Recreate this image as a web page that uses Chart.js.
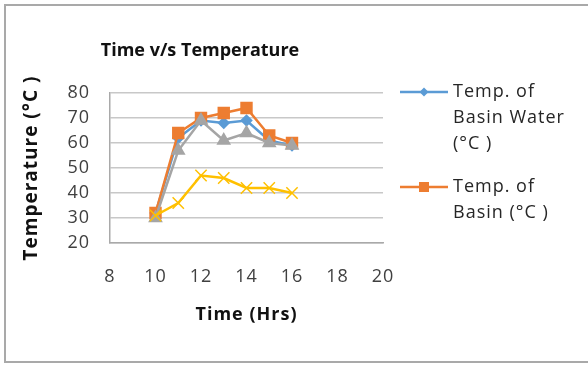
<!DOCTYPE html>
<html><head><meta charset="utf-8">
<script src="https://cdn.jsdelivr.net/npm/chart.js@4"></script>
<style>
html,body{margin:0;padding:0;background:#fff;overflow:hidden}
#wrap{position:relative;width:588px;height:365px}
#c{position:absolute;left:0;top:0}
#frame{position:absolute;left:4px;top:4px;width:620px;height:359px;border:2px solid #a9a9a9;box-sizing:border-box;pointer-events:none}
</style></head><body>
<div id="wrap"><canvas id="c" width="588" height="365"></canvas><div id="frame"></div></div>
<script>
const hours = [10, 11, 12, 13, 14, 15, 16];
const basinWater = [32, 62, 69, 68, 69, 61, 59];
const basin = [32, 64, 70, 72, 74, 63, 60];
const glass = [30, 57, 69, 61, 64, 60, 59];
const ambient = [31, 36, 47, 46, 42, 42, 40];
const xTicks = [8, 10, 12, 14, 16, 18, 20];
const yTicks = [20, 30, 40, 50, 60, 70, 80];
const seriesNames = ['Temp. of Basin Water (°C )', 'Temp. of Basin (°C )', 'Temp. of Glass (°C )', 'Ambient Temp. (°C )'];
const legendLines = [['Temp. of', 'Basin Water', '(°C )'], ['Temp. of', 'Basin (°C )']];
const chartTitle = 'Time v/s Temperature';
const xTitle = 'Time (Hrs)';
const yTitle = 'Temperature (°C )';

const FONT = '"Open Sans"';
const pts = arr => hours.map((h, i) => ({x: h, y: arr[i]}));

const customDraw = {
  id: 'customDraw',
  beforeDraw(chart) {
    chart.ctx.letterSpacing = '1px';
  },
  afterDraw(chart) {
    const ctx = chart.ctx;
    ctx.save();
    // title
    ctx.letterSpacing = '0px';
    ctx.fillStyle = '#111';
    ctx.font = 'bold 18px ' + FONT;
    ctx.textAlign = 'center';
    ctx.textBaseline = 'middle';
    ctx.fillText(chartTitle, 200, 51);
    // legend (first two series)
    ctx.letterSpacing = '1px';
    const ds = chart.data.datasets;
    const startY = [92, 187];
    for (let k = 0; k < 2; k++) {
      const d = ds[k];
      const y = startY[k];
      ctx.strokeStyle = d.borderColor;
      ctx.lineWidth = 2.5;
      ctx.beginPath(); ctx.moveTo(400, y); ctx.lineTo(448, y); ctx.stroke();
      ctx.fillStyle = d.borderColor;
      if (d.pointStyle === 'rectRot') {
        ctx.beginPath(); ctx.moveTo(424, y - 4.5); ctx.lineTo(428.5, y); ctx.lineTo(424, y + 4.5); ctx.lineTo(419.5, y); ctx.closePath(); ctx.fill();
      } else {
        ctx.fillRect(419, y - 5, 10, 10);
      }
      ctx.fillStyle = '#262626';
      ctx.font = '18px ' + FONT;
      ctx.textAlign = 'left';
      legendLines[k].forEach((t, j) => ctx.fillText(t, 453, y + j * 26));
    }
    ctx.restore();
    ctx.letterSpacing = '0px';
  }
};

new Chart(document.getElementById('c'), {
  type: 'line',
  data: {
    datasets: [
      {label: seriesNames[0], data: pts(basinWater), borderColor: '#5B9BD5', backgroundColor: '#5B9BD5', pointStyle: 'rectRot', pointRadius: 4.5, borderWidth: 2.5, order: 4},
      {label: seriesNames[1], data: pts(basin), borderColor: '#ED7D31', backgroundColor: '#ED7D31', pointStyle: 'rect', pointRadius: 7, borderWidth: 2.5, order: 3},
      {label: seriesNames[2], data: pts(glass), borderColor: '#A5A5A5', backgroundColor: '#A5A5A5', pointStyle: 'triangle', pointRadius: 6, borderWidth: 2.5, order: 2},
      {label: seriesNames[3], data: pts(ambient), borderColor: '#FFC000', backgroundColor: '#FFC000', pointStyle: 'crossRot', pointRadius: 8, pointBorderWidth: 1.5, borderWidth: 2.5, order: 1}
    ]
  },
  options: {
    responsive: false,
    animation: false,
    events: [],
    layout: {padding: {left: 0, right: 205, top: 93, bottom: 0}},
    plugins: {legend: {display: false}, title: {display: false}, tooltip: {enabled: false}},
    elements: {line: {tension: 0}, point: {borderWidth: 1}},
    scales: {
      x: {
        type: 'linear', min: 8, max: 20,
        afterBuildTicks: s => { s.ticks = xTicks.map(v => ({value: v})); },
        afterFit: s => { s.height = 122; },
        grid: {display: false, drawTicks: false},
        border: {display: true, color: '#a9a9a9', width: 1.5},
        ticks: {padding: 23, color: '#404040', font: {family: 'Open Sans', size: 18}, maxRotation: 0},
        title: {display: true, text: xTitle, color: '#111', font: {family: 'Open Sans', size: 18, weight: 'bold'}, padding: {top: 0, bottom: 39}}
      },
      y: {
        min: 20, max: 80,
        afterBuildTicks: s => { s.ticks = yTicks.map(v => ({value: v})); },
        afterFit: s => { s.width = 110; },
        grid: {color: '#c8c8c8', lineWidth: 1.5, drawTicks: false},
        border: {display: true, color: '#a9a9a9', width: 1.5},
        ticks: {padding: 20, color: '#404040', font: {family: 'Open Sans', size: 18}},
        title: {display: true, text: yTitle, color: '#111', font: {family: 'Open Sans', size: 19, weight: 'bold'}, padding: {top: 20, bottom: 0}}
      }
    }
  },
  plugins: [customDraw]
});
</script>
</body></html>
